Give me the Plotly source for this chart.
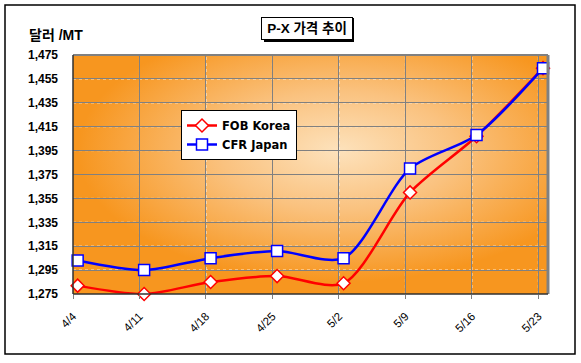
import base64
import plotly.graph_objects as go

# ---- data ----
categories = ["4/4", "4/11", "4/18", "4/25", "5/2", "5/9", "5/16", "5/23"]
fob_korea = [1282, 1275, 1285, 1290, 1284, 1360, 1407, 1464]
cfr_japan = [1303, 1295, 1305, 1311, 1305, 1380, 1408, 1464]
y_ticks = [1275, 1295, 1315, 1335, 1355, 1375, 1395, 1415, 1435, 1455, 1475]

W, H = 581, 363
L, R, T, B = 73, 547, 55, 294  # plot area in pixels

def px(x):
    return (x - L) / (R - L)

def py(y):
    return (B - y) / (B - T)

xpos = list(range(len(categories)))
offset = 0.07
tickvals = [i - offset for i in xpos]

fig = go.Figure()
fig.add_trace(go.Scatter(
    x=xpos, y=fob_korea, name="FOB Korea", mode="lines+markers",
    line=dict(color="#FF0000", width=2.5, shape="spline", smoothing=0.8),
    marker=dict(symbol="diamond", size=10, color="white", line=dict(color="#FF0000", width=1.5)),
    cliponaxis=False,
))
fig.add_trace(go.Scatter(
    x=xpos, y=cfr_japan, name="CFR Japan", mode="lines+markers",
    line=dict(color="#0000FF", width=2.5, shape="spline", smoothing=0.8),
    marker=dict(symbol="square", size=11, color="white", line=dict(color="#0000FF", width=1.5)),
    cliponaxis=False,
))

# gradient background for plot area
svg = (
    '<svg xmlns="http://www.w3.org/2000/svg" width="474" height="239" viewBox="0 0 100 100" preserveAspectRatio="none">'
    '<defs><radialGradient id="g" cx="0.56" cy="0.4" r="0.55" fx="0.56" fy="0.4">'
    '<stop offset="0" stop-color="#FDE2BC"/>'
    '<stop offset="0.45" stop-color="#FAC27F"/>'
    '<stop offset="1" stop-color="#F7961F"/>'
    '</radialGradient></defs>'
    '<rect x="0" y="0" width="100" height="100" fill="#F7961F"/>'
    '<rect x="0" y="0" width="100" height="100" fill="url(#g)"/></svg>'
)
src = "data:image/svg+xml;base64," + base64.b64encode(svg.encode()).decode()

shapes = []
for v in y_ticks[1:-1]:
    shapes.append(dict(type="line", xref="paper", yref="y", x0=0, x1=1, y0=v, y1=v,
                       line=dict(color="white", width=1, dash="3px,3px"), layer="between"))
for v in tickvals[1:]:
    shapes.append(dict(type="line", xref="x", yref="paper", x0=v, x1=v, y0=0, y1=1,
                       line=dict(color="white", width=1, dash="3px,3px"), layer="between"))
shapes += [
    dict(type="line", xref="paper", yref="paper", x0=0, x1=px(R + 1), y0=1, y1=1,
         line=dict(color="#808080", width=2), layer="above"),
    dict(type="line", xref="paper", yref="paper", x0=px(R + 1), x1=px(R + 1), y0=0, y1=1,
         line=dict(color="#808080", width=3), layer="above"),
    dict(type="line", xref="paper", yref="paper", x0=0, x1=0, y0=0, y1=1,
         line=dict(color="#303030", width=1.5), layer="above"),
    dict(type="line", xref="paper", yref="paper", x0=0, x1=px(R + 1), y0=0, y1=0,
         line=dict(color="#303030", width=1.5), layer="above"),
    dict(type="rect", xref="paper", yref="paper", x0=px(264), x1=px(354), y0=py(42), y1=py(18),
         fillcolor="black", line=dict(width=0), layer="above"),
    dict(type="rect", xref="paper", yref="paper", x0=px(5), x1=px(575), y0=py(354), y1=py(5),
         line=dict(color="black", width=1.5), fillcolor="rgba(0,0,0,0)", layer="above"),
]

fig.update_layout(
    width=W, height=H,
    margin=dict(l=L, r=W - R, t=T, b=H - B, pad=0),
    paper_bgcolor="white", plot_bgcolor="#F7961F",
    font=dict(family="Arial, 'Noto Sans CJK KR'", color="black"),
    showlegend=True,
    legend=dict(x=px(181), y=py(110), xanchor="left", yanchor="top",
                bgcolor="white", bordercolor="black", borderwidth=1,
                font=dict(family="'DejaVu Sans', Arial", size=11.5, weight="bold"),
                itemwidth=30, tracegroupgap=0),
    images=[dict(source=src, xref="paper", yref="paper", x=0, y=1, sizex=1, sizey=1,
                 sizing="stretch", xanchor="left", yanchor="top", layer="below")],
    shapes=shapes,
    annotations=[
        dict(text="P-X 가격 추이", xref="paper", yref="paper", x=px(307), y=py(28),
             xanchor="center", yanchor="middle", showarrow=False,
             font=dict(size=13.5, weight="bold"), bgcolor="white",
             bordercolor="black", borderwidth=1, borderpad=3, width=84),
        dict(text="달러 /MT", xref="paper", yref="paper", x=px(27), y=py(35),
             xanchor="left", yanchor="middle", showarrow=False,
             font=dict(size=14, weight="bold")),
    ],
)
fig.update_xaxes(
    range=[-offset, 7.06], tickvals=tickvals, ticktext=categories, tickangle=-45,
    tickfont=dict(size=11.5), showgrid=True, gridcolor="#808080", gridwidth=1,
    ticks="outside", ticklen=4, tickcolor="#808080", showline=False, zeroline=False,
    ticklabelstandoff=6, fixedrange=True,
)
fig.update_yaxes(
    range=[1275, 1475], tickvals=y_ticks, tickformat=",d",
    tickfont=dict(size=12, weight="bold"), showgrid=True, gridcolor="#808080", gridwidth=1,
    ticks="", showline=False, zeroline=False, ticklabelstandoff=14, fixedrange=True,
)

fig.write_html("out.html", config={"displayModeBar": False},
               post_script="document.body.style.margin='0';document.body.style.overflow='hidden';")
